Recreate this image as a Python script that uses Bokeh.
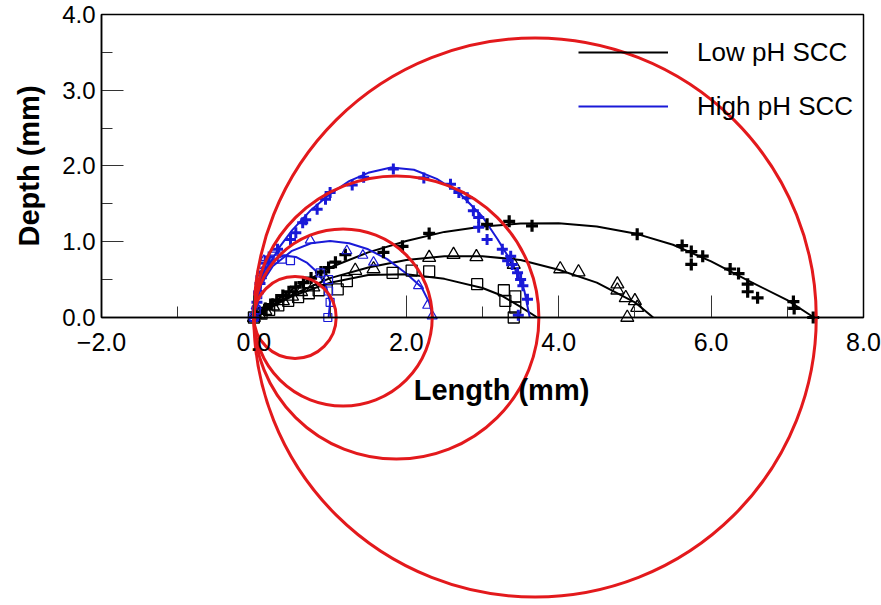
import math
from bokeh.plotting import figure
from bokeh.models import (Range1d, FixedTicker, CustomJSTickFormatter, BoxAnnotation,
                          Label, Legend, LegendItem)
from bokeh.embed import file_html
from bokeh.resources import INLINE

# ---------------- data ----------------
# axis ticks
x_ticks = [-2, 0, 2, 4, 6, 8]
x_minor = [-1, 1, 3, 5, 7]
y_ticks = [0, 1, 2, 3, 4]
y_minor = [0.5, 1.5, 2.5, 3.5]
x_box = (-2, 8)
y_box = (0, 4)

# Low pH SCC - measured points
lp_plus_x = [0.0, 0.08, 0.15, 0.22, 0.30, 0.38, 0.46, 0.55, 0.65, 0.75, 0.88, 0.98,
             1.07, 1.20, 1.70, 1.95, 2.30, 3.06, 3.35, 3.65, 5.03, 5.62, 5.74, 5.74,
             5.89, 6.25, 6.36, 6.48, 6.48, 6.61, 7.08, 7.09, 7.34]
lp_plus_y = [0.0, 0.06, 0.12, 0.17, 0.23, 0.29, 0.34, 0.40, 0.46, 0.52, 0.60, 0.66,
             0.73, 0.83, 0.86, 0.94, 1.11, 1.23, 1.27, 1.21, 1.10, 0.95, 0.87, 0.70,
             0.81, 0.64, 0.58, 0.44, 0.34, 0.26, 0.21, 0.12, 0.0]
lp_tri_x = [0.0, 0.07, 0.15, 0.25, 0.38, 0.50, 0.62, 0.78, 0.95, 1.33, 1.57, 2.30,
            2.62, 2.92, 3.41, 4.02, 4.26, 4.77, 4.77, 4.88, 5.00, 5.03, 4.90]
lp_tri_y = [0.0, 0.04, 0.09, 0.15, 0.22, 0.28, 0.34, 0.40, 0.48, 0.62, 0.64, 0.79,
            0.83, 0.80, 0.70, 0.64, 0.60, 0.44, 0.36, 0.26, 0.22, 0.13, 0.0]
lp_sq_x = [0.0, 0.10, 0.20, 0.32, 0.45, 0.58, 0.72, 0.85, 1.10, 1.22, 1.82, 2.07,
           2.30, 2.93, 3.28, 3.30, 3.43, 3.43, 3.41]
lp_sq_y = [0.0, 0.05, 0.10, 0.16, 0.22, 0.27, 0.32, 0.36, 0.37, 0.48, 0.59, 0.62,
           0.61, 0.44, 0.36, 0.22, 0.28, 0.13, 0.0]

# Low pH SCC - fitted profiles
lp_fit1_x = [0.0, 0.25, 0.5, 1.0, 1.5, 2.0, 2.5, 3.0, 3.5, 4.0, 4.5, 5.0, 5.5, 6.0, 6.5, 7.0, 7.35]
lp_fit1_y = [0.0, 0.20, 0.37, 0.66, 0.86, 1.01, 1.13, 1.20, 1.24, 1.245, 1.20, 1.11, 0.96, 0.74, 0.48, 0.23, 0.0]
lp_fit2_x = [0.0, 0.25, 0.5, 1.0, 1.5, 2.0, 2.5, 3.0, 3.5, 4.0, 4.5, 5.0, 5.24]
lp_fit2_y = [0.0, 0.16, 0.30, 0.52, 0.66, 0.76, 0.81, 0.81, 0.76, 0.63, 0.46, 0.20, 0.0]
lp_fit3_x = [0.0, 0.25, 0.5, 1.0, 1.5, 2.0, 2.5, 3.0, 3.25, 3.5, 3.72]
lp_fit3_y = [0.0, 0.15, 0.28, 0.46, 0.56, 0.57, 0.51, 0.39, 0.29, 0.14, 0.0]

# High pH SCC - measured points
hp_plus_x = [0.0, 0.04, 0.08, 0.11, 0.15, 0.20, 0.31, 0.48, 0.55, 0.64, 0.68, 0.83,
             0.94, 1.00, 1.29, 1.44, 1.83, 2.23, 2.58, 2.69, 2.80, 2.88, 2.95, 2.95,
             3.06, 3.26, 3.37, 3.33, 3.39, 3.46, 3.50, 3.53, 3.59, 3.47]
hp_plus_y = [0.0, 0.20, 0.45, 0.60, 0.72, 0.80, 0.90, 1.03, 1.12, 1.25, 1.29, 1.43,
             1.56, 1.65, 1.75, 1.85, 1.96, 1.84, 1.76, 1.65, 1.58, 1.41, 1.32, 1.19,
             1.03, 0.90, 0.81, 0.75, 0.70, 0.59, 0.50, 0.42, 0.24, 0.03]
hp_tri_x = [0.0, 0.03, 0.06, 0.10, 0.13, 0.28, 0.74, 1.22, 1.43, 1.57, 2.16, 2.28, 2.34]
hp_tri_y = [0.0, 0.15, 0.35, 0.55, 0.75, 0.90, 1.02, 0.88, 0.82, 0.73, 0.42, 0.16, 0.02]
hp_sq_x = [0.0, 0.03, 0.05, 0.08, 0.13, 0.26, 0.37, 0.48, 0.87, 0.98, 0.98, 1.00, 0.97]
hp_sq_y = [0.0, 0.10, 0.30, 0.50, 0.70, 0.77, 0.77, 0.75, 0.59, 0.50, 0.35, 0.20, 0.0]

# High pH SCC - fitted profiles
hp_fit1_x = [0.0, 0.1, 0.2, 0.35, 0.5, 0.75, 1.0, 1.25, 1.5, 1.8, 2.1, 2.4, 2.7, 3.0, 3.2, 3.4, 3.55, 3.62]
hp_fit1_y = [0.0, 0.45, 0.70, 0.95, 1.15, 1.42, 1.63, 1.80, 1.91, 1.98, 1.95, 1.83, 1.64, 1.33, 1.03, 0.70, 0.35, 0.0]
hp_fit2_x = [0.0, 0.1, 0.25, 0.5, 0.75, 1.0, 1.25, 1.5, 1.75, 2.0, 2.2, 2.3, 2.35]
hp_fit2_y = [0.0, 0.45, 0.68, 0.88, 0.98, 1.01, 0.98, 0.90, 0.77, 0.58, 0.40, 0.20, 0.0]
hp_fit3_x = [0.0, 0.05, 0.12, 0.25, 0.40, 0.55, 0.70, 0.85, 0.95, 1.00, 0.98]
hp_fit3_y = [0.0, 0.35, 0.60, 0.76, 0.82, 0.80, 0.72, 0.58, 0.40, 0.20, 0.0]

# semicircular crack-front circles (centre on the surface, passing through the origin)
circle_centres = [0.54, 1.17, 1.87, 3.69]

BLACK = "#000000"
BLUE = "#1a1ad8"
RED = "#e3191c"
FONT = "Liberation Sans"

# ---------------- figure ----------------
# The frame fills the whole canvas so that the circles can run below the plot box.
p = figure(width=881, height=605, x_range=Range1d(-3.3255, 8.2362), y_range=Range1d(-3.802, 4.1848),
           output_backend="svg", toolbar_location=None,
           min_border_left=0, min_border_right=0, min_border_top=0, min_border_bottom=0)
p.outline_line_color = None
p.grid.visible = False

fmt = CustomJSTickFormatter(code="return (tick < 0 ? '\u2212' : '') + Math.abs(tick).toFixed(1);")

xa = p.xaxis[0]
xa.fixed_location = y_box[0]
xa.bounds = x_box
xa.ticker = FixedTicker(ticks=x_ticks, minor_ticks=x_minor)
ya = p.yaxis[0]
ya.fixed_location = x_box[0]
ya.bounds = y_box
ya.ticker = FixedTicker(ticks=y_ticks, minor_ticks=y_minor)
for ax in (xa, ya):
    ax.formatter = fmt
    ax.major_tick_in = 22
    ax.major_tick_out = 0
    ax.minor_tick_in = 11
    ax.minor_tick_out = 0
    ax.major_tick_line_color = "#333333"
    ax.minor_tick_line_color = "#333333"
    ax.axis_line_color = BLACK
    ax.axis_line_width = 1.5
    ax.major_label_text_font = FONT
    ax.major_label_text_color = BLACK
xa.major_label_text_font_size = "25px"
ya.major_label_text_font_size = "24px"
xa.major_label_standoff = 16
ya.major_label_standoff = 6

# plot box
p.add_layout(BoxAnnotation(left=x_box[0], right=x_box[1], bottom=y_box[0], top=y_box[1],
                           fill_alpha=0, line_color=BLACK, line_alpha=1, line_width=1.5))

# fitted lines
r_lp = p.line(lp_fit1_x, lp_fit1_y, line_color=BLACK, line_width=2)
p.line(lp_fit2_x, lp_fit2_y, line_color=BLACK, line_width=2)
p.line(lp_fit3_x, lp_fit3_y, line_color=BLACK, line_width=2)
r_hp = p.line(hp_fit1_x, hp_fit1_y, line_color=BLUE, line_width=2)
p.line(hp_fit2_x, hp_fit2_y, line_color=BLUE, line_width=2)
p.line(hp_fit3_x, hp_fit3_y, line_color=BLUE, line_width=2)

# markers
p.scatter(lp_plus_x, lp_plus_y, marker="cross", size=12, line_color=BLACK, line_width=3.2)
p.scatter(lp_tri_x, lp_tri_y, marker="triangle", size=13, line_color=BLACK, fill_color=None, line_width=1.3)
p.scatter(lp_sq_x, lp_sq_y, marker="square", size=11, line_color=BLACK, fill_color=None, line_width=1.3)
p.scatter(hp_plus_x, hp_plus_y, marker="cross", size=11, line_color=BLUE, line_width=3)
p.scatter(hp_tri_x, hp_tri_y, marker="triangle", size=10, line_color=BLUE, fill_color=None, line_width=1.2)
p.scatter(hp_sq_x, hp_sq_y, marker="square", size=8, line_color=BLUE, fill_color=None, line_width=1.2)

# circles
p.ellipse(x=circle_centres, y=[0] * len(circle_centres),
          width=[2 * c for c in circle_centres], height=[2 * c for c in circle_centres],
          fill_color=None, line_color=RED, line_width=3)

# axis titles
p.add_layout(Label(x=3.25, y=-0.96, text="Length (mm)", text_align="center", text_baseline="middle",
                   text_font=FONT, text_font_size="29px", text_font_style="bold", text_color=BLACK))
p.add_layout(Label(x=x_box[0], y=2, x_offset=-73, text="Depth (mm)", angle=math.pi / 2,
                   text_align="center", text_baseline="middle",
                   text_font=FONT, text_font_size="29px", text_font_style="bold", text_color=BLACK))

legend = Legend(items=[LegendItem(label="Low pH SCC", renderers=[r_lp]),
                       LegendItem(label="High pH SCC", renderers=[r_hp])],
                location=(578, 479), glyph_width=90, glyph_height=40, label_height=40,
                spacing=14, padding=0, margin=0, label_standoff=29,
                border_line_color=None, background_fill_alpha=0,
                label_text_font=FONT, label_text_font_size="26px", label_text_color=BLACK)
p.add_layout(legend)

open("out.html", "w").write(file_html(p, INLINE))
